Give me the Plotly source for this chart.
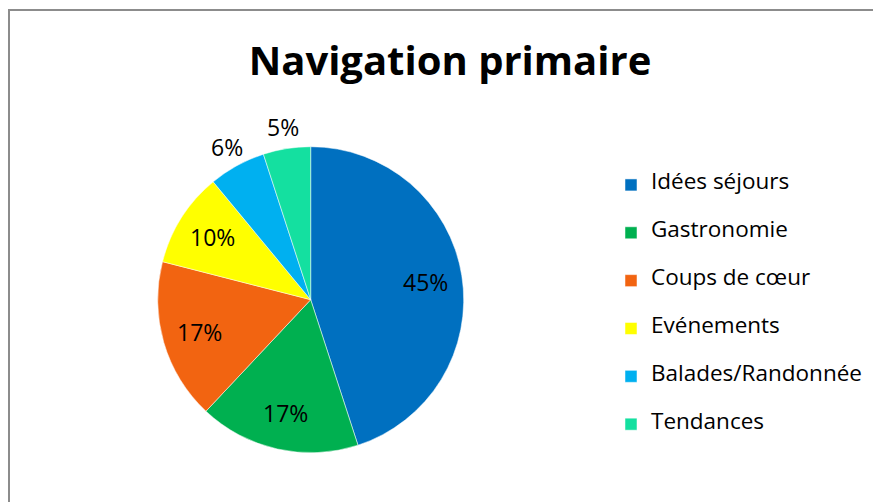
import math
import plotly.graph_objects as go

# Data
categories = ["Idées séjours", "Gastronomie", "Coups de cœur", "Evénements",
              "Balades/Randonnée", "Tendances"]
shares = [45, 17, 17, 10, 6, 5]
colors = ["#0070C0", "#00B050", "#F26411", "#FFFF00", "#00B0F0", "#14E0A0"]
label_outside = [False, False, False, False, True, True]

W, H = 881, 502
FONT = "Open Sans"

# pie geometry in figure pixels (page body adds an 8px offset)
CX, CY, R = 302.7, 291.7, 153.0

# padded legend labels: blank line above/below gives the wider row spacing
legend_labels = [f"&nbsp;<br><span style='font-size:22.5px'>{c}</span><br>&nbsp;" for c in categories]

fig = go.Figure(go.Pie(
    labels=legend_labels,
    values=shares,
    sort=False,
    direction="clockwise",
    rotation=0,
    marker=dict(colors=colors, line=dict(width=0.5, color="white")),
    textinfo="none",
    domain=dict(x=[(CX - R) / W, (CX + R) / W], y=[1 - (CY + R) / H, 1 - (CY - R) / H]),
    hoverinfo="skip",
))

# percentage labels placed at each slice's mid-angle, Excel style
total = sum(shares)
annotations = []
cum = 0
for val, outside in zip(shares, label_outside):
    mid = (cum + val / 2) / total * 2 * math.pi
    cum += val
    rr = R * (1.14 if outside else 0.76)
    px = CX + rr * math.sin(mid)
    py = CY - rr * math.cos(mid)
    annotations.append(dict(
        x=px / W, y=1 - py / H, xref="paper", yref="paper",
        text=f"{round(val / total * 100)}%", showarrow=False,
        xanchor="center", yanchor="middle",
        font=dict(family=FONT, size=23, color="black"),
    ))

fig.update_layout(
    width=W, height=H,
    margin=dict(l=0, r=0, t=0, b=0),
    paper_bgcolor="white",
    font=dict(family=FONT, color="black"),
    title=dict(text="<b>Navigation primaire</b>", x=442 / W, xanchor="center",
               y=1 - 52.5 / H, yanchor="middle",
               font=dict(family=FONT, size=40, color="black")),
    legend=dict(x=603 / W, xanchor="left", y=1 - 148 / H, yanchor="top",
                font=dict(family=FONT, size=11.5, color="black"),
                bgcolor="rgba(0,0,0,0)"),
    annotations=annotations,
    shapes=[dict(type="rect", xref="paper", yref="paper",
                 x0=1 / W, x1=1.05, y0=-0.05, y1=1 - 2 / H,
                 line=dict(color="#8c8c8c", width=2), layer="below")],
)

fig.write_html("out.html")
